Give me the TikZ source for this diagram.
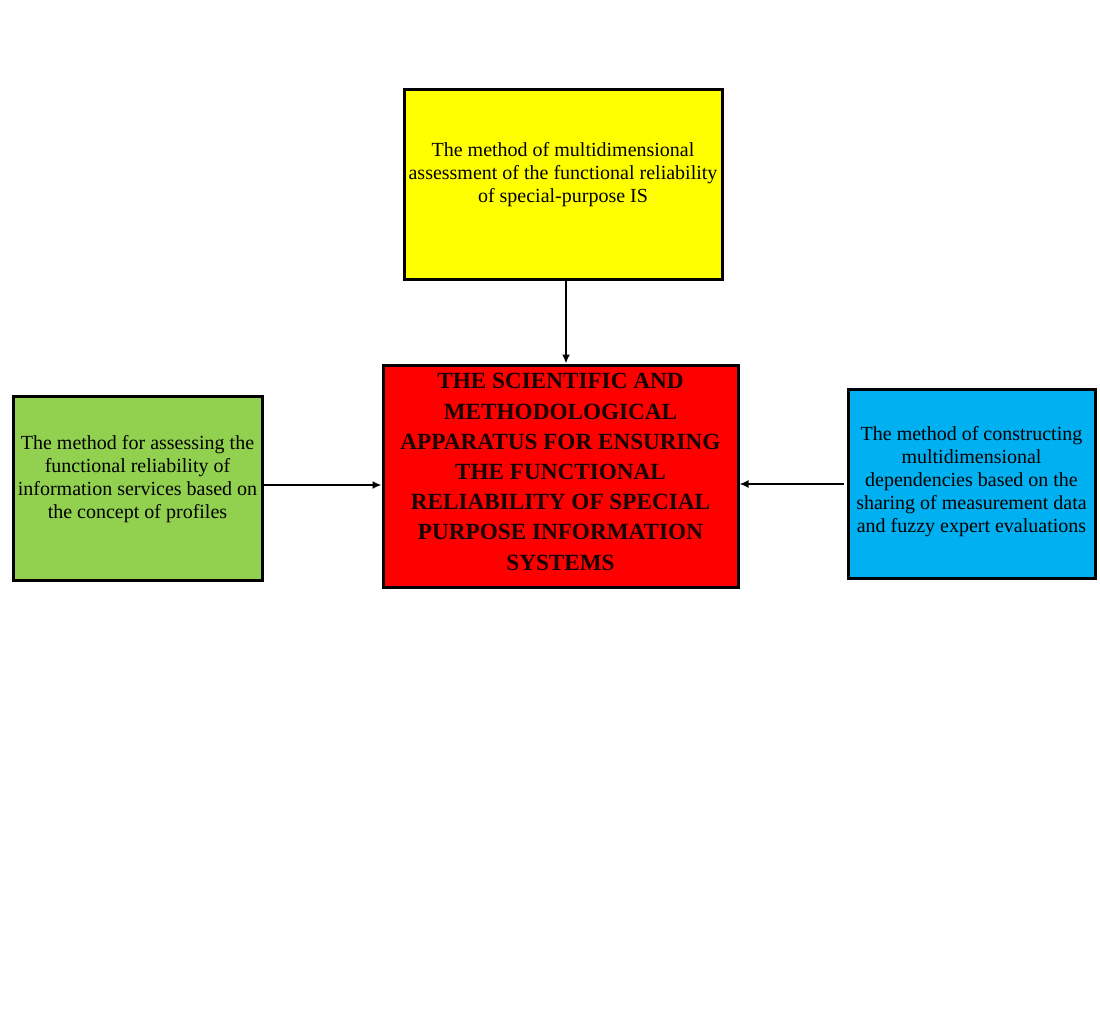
\documentclass[tikz,border=0pt]{standalone}
\usepackage{fontspec}
\setmainfont{Liberation Serif}
\usetikzlibrary{arrows.meta}
\usetikzlibrary{positioning}

\definecolor{boxyellow}{HTML}{FFFF00}
\definecolor{boxred}{HTML}{FF0000}
\definecolor{boxgreen}{HTML}{92D050}
\definecolor{boxblue}{HTML}{00B0F0}

\tikzset{
  methodbox/.style={draw=black,line width=3pt,inner sep=0pt},
  methodtext/.style={align=center,font=\fontsize{20}{23}\selectfont},
  maintext/.style={align=center,text=black!90!red,font=\bfseries\fontsize{23.2}{30.2}\selectfont},
  feed/.style={line width=2.6pt,-{Latex[length=9pt,width=8pt]}}
}

\begin{document}
\begin{tikzpicture}[x=1pt,y=-1pt]
				\useasboundingbox (0,0) rectangle (1100,1019);
				\node[methodbox,fill=boxyellow,minimum width=318pt,minimum height=189pt] (yellow) at (563,184.5) {};
				\node[methodbox,fill=boxred,minimum width=355pt,minimum height=222pt] (red) at (560.5,476) {};
				\node[methodbox,fill=boxgreen,minimum width=249pt,minimum height=184pt] (green) at (137.5,488) {};
				\node[methodbox,fill=boxblue,minimum width=247pt,minimum height=189pt] (blue) at (971.5,483.5) {};
				\node[methodtext] (yellowtxt) at (563,175) {The method of multidimensional\\assessment of the functional reliability\\of special-purpose IS};
				\node[maintext] (redtxt) at (560.5,472) {THE SCIENTIFIC AND\\METHODOLOGICAL\\APPARATUS FOR ENSURING\\THE FUNCTIONAL\\RELIABILITY OF SPECIAL\\PURPOSE INFORMATION\\SYSTEMS};
				\node[methodtext] (greentxt) at (137.5,479) {The method for assessing the\\functional reliability of\\information services based on\\the concept of profiles};
				\node[methodtext] (bluetxt) at (971.5,482) {The method of constructing\\multidimensional\\dependencies based on the\\sharing of measurement data\\and fuzzy expert evaluations};
				\draw[feed] (yellow.south -| 566,0) -- (red.north -| 566,0);
				\draw[feed] (green.east |- 0,485) -- (red.west |- 0,485);
				\draw[feed] ([xshift=-3pt]blue.west |- 0,484) -- (red.east |- 0,484);
			\end{tikzpicture}
\end{document}
